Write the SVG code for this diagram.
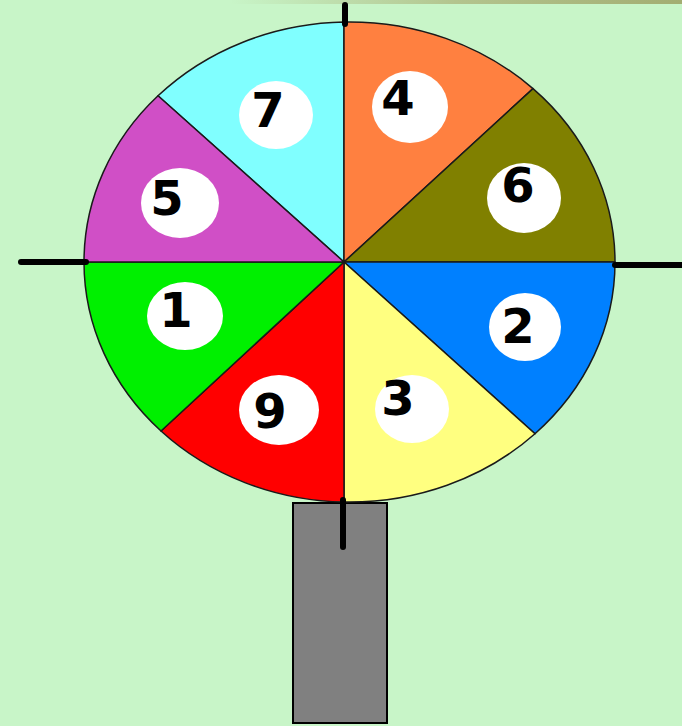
<svg xmlns="http://www.w3.org/2000/svg" width="682" height="726" viewBox="0 0 682 726">
<defs>
<linearGradient id="topbar" x1="0" y1="0" x2="1" y2="0">
<stop offset="0" stop-color="#c8f5c8"/>
<stop offset="0.5" stop-color="#b3c48e"/>
<stop offset="1" stop-color="#a3ad72"/>
</linearGradient>
</defs>
<style>
.sec{stroke:#1a1a1a;stroke-width:1.5;stroke-linejoin:round}
.ball{fill:#ffffff}
.num{font-family:"DejaVu Sans","Liberation Sans",sans-serif;font-weight:bold;font-size:48px;fill:#000;text-anchor:middle}
.tick{stroke:#000;stroke-width:6;stroke-linecap:round}
</style>
<rect width="682" height="726" fill="#c8f5c8"/>
<rect x="230" y="0" width="452" height="4" fill="url(#topbar)"/>
<g id="stand">
<rect x="293" y="503" width="94" height="220" fill="#808080" stroke="#000" stroke-width="2"/>
</g>
<g id="wheel">
<g id="sector7"><path class="sec" fill="#80ffff" d="M344,262 L158,95.8 A265.5,240 0 0,1 344,22 Z"/></g>
<g id="sector4"><path class="sec" fill="#ff8040" d="M344,262 L344,22 A265.5,240 0 0,1 533,88.6 Z"/></g>
<g id="sector6"><path class="sec" fill="#808000" d="M344,262 L533,88.6 A265.5,240 0 0,1 615,262 Z"/></g>
<g id="sector2"><path class="sec" fill="#0080ff" d="M344,262 L615,262 A265.5,240 0 0,1 535,433.7 Z"/></g>
<g id="sector3"><path class="sec" fill="#ffff80" d="M344,262 L535,433.7 A265.5,240 0 0,1 344,502 Z"/></g>
<g id="sector9"><path class="sec" fill="#ff0000" d="M344,262 L344,502 A265.5,240 0 0,1 161,431 Z"/></g>
<g id="sector1"><path class="sec" fill="#00f000" d="M344,262 L161,431 A265.5,240 0 0,1 84,262 Z"/></g>
<g id="sector5"><path class="sec" fill="#d04fc6" d="M344,262 L84,262 A265.5,240 0 0,1 158,95.8 Z"/></g>
</g>
<g id="balls">
<g id="ball7"><ellipse class="ball" cx="276" cy="115" rx="37" ry="34"/><text class="num" x="268" y="127">7</text></g>
<g id="ball5"><ellipse class="ball" cx="180" cy="203" rx="39" ry="35"/><text class="num" x="167" y="215">5</text></g>
<g id="ball4"><ellipse class="ball" cx="410" cy="107" rx="38" ry="36"/><text class="num" x="398" y="115">4</text></g>
<g id="ball6"><ellipse class="ball" cx="524" cy="198" rx="37" ry="35"/><text class="num" x="518" y="202">6</text></g>
<g id="ball1"><ellipse class="ball" cx="185" cy="316" rx="38" ry="34"/><text class="num" x="176" y="327">1</text></g>
<g id="ball9"><ellipse class="ball" cx="279" cy="410" rx="40" ry="35"/><text class="num" x="270" y="428">9</text></g>
<g id="ball3"><ellipse class="ball" cx="412" cy="409" rx="37" ry="34"/><text class="num" x="398" y="415">3</text></g>
<g id="ball2"><ellipse class="ball" cx="525" cy="327" rx="36" ry="34"/><text class="num" x="518" y="343">2</text></g>
</g>
<g id="connectors">
<line class="tick" x1="345" y1="5" x2="345" y2="24"/>
<line class="tick" x1="21" y1="262" x2="86" y2="262"/>
<line class="tick" x1="615" y1="265" x2="682" y2="265"/>
<line class="tick" x1="343" y1="500" x2="343" y2="547" stroke-width="5"/>
</g>
</svg>
